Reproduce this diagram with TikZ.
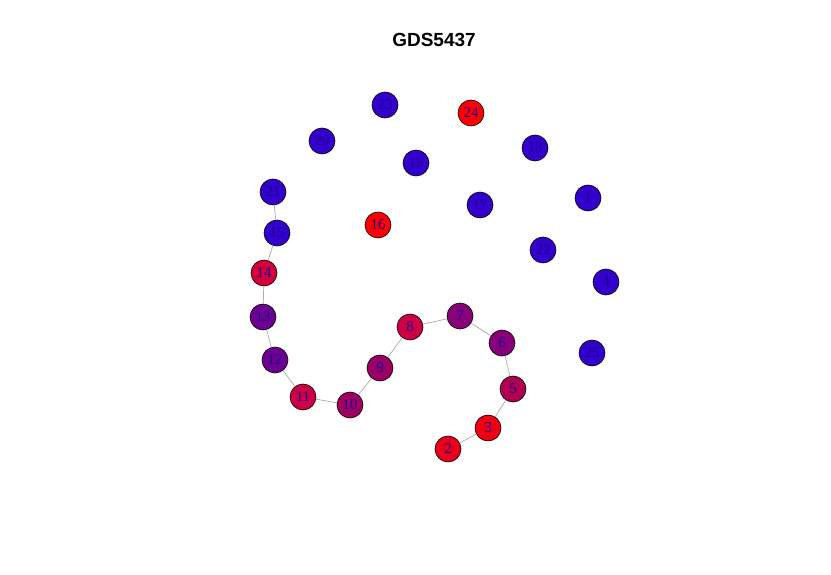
\documentclass[tikz,border=0pt]{standalone}
\usepackage{fontspec}
\setmainfont{Liberation Serif}
\newfontfamily\titlefont{Liberation Sans}
\usepackage{xcolor}
\usepackage{tikz}
\definecolor{lowblue}{HTML}{3300CC}
\definecolor{highred}{HTML}{FF0000}
\definecolor{red2}{HTML}{E8001A}
\definecolor{red3}{HTML}{EE0014}
\definecolor{red14}{HTML}{D5003A}
\definecolor{red8}{HTML}{CC0042}
\definecolor{mag5}{HTML}{B00050}
\definecolor{mag10}{HTML}{A00060}
\definecolor{mag9}{HTML}{990066}
\definecolor{purp6}{HTML}{880078}
\definecolor{purp13}{HTML}{6E0090}
\definecolor{labelnavy}{HTML}{1A0099}
\definecolor{edgegray}{HTML}{AAAAAA}
\tikzset{
  gene/.style={circle, draw=black, line width=0.6pt, minimum size=26pt, inner sep=0pt,
               text=labelnavy, font=\fontsize{15}{15}\selectfont},
  link/.style={draw=edgegray, line width=0.7pt},
}

\begin{document}
\begin{tikzpicture}[x=1pt, y=-1pt]
\useasboundingbox (0,0) rectangle (831,575);
\node[font=\titlefont\bfseries\fontsize{19}{19}\selectfont] (title) at (434,40) {GDS5437};
% unconnected genes
\node[gene, fill=lowblue] (n23) at (385,105) {23};
\node[gene, fill=highred] (n24) at (471,113) {24};
\node[gene, fill=lowblue] (n20) at (322,141) {20};
\node[gene, fill=lowblue] (n18) at (535,148) {18};
\node[gene, fill=lowblue] (n19) at (416,163) {19};
\node[gene, fill=lowblue] (n1) at (588,198) {1};
\node[gene, fill=lowblue] (n17) at (480,205) {17};
\node[gene, fill=highred] (n16) at (378,225) {16};
\node[gene, fill=lowblue] (n22) at (543,250) {22};
\node[gene, fill=lowblue] (n4) at (606,282) {4};
\node[gene, fill=lowblue] (n25) at (592,353) {25};
% the chain
\node[gene, fill=lowblue] (n21) at (273,192) {21};
\node[gene, fill=lowblue] (n15) at (277,233) {15};
\node[gene, fill=red14] (n14) at (264,273) {14};
\node[gene, fill=purp13] (n13) at (263,317) {13};
\node[gene, fill=purp13] (n12) at (275,360) {12};
\node[gene, fill=red8] (n11) at (303,397) {11};
\node[gene, fill=mag10] (n10) at (350,405) {10};
\node[gene, fill=mag9] (n9) at (380,368) {9};
\node[gene, fill=red8] (n8) at (410,327) {8};
\node[gene, fill=purp6] (n7) at (460,316) {7};
\node[gene, fill=purp6] (n6) at (502,343) {6};
\node[gene, fill=mag5] (n5) at (513,389) {5};
\node[gene, fill=red3] (n3) at (488,428) {3};
\node[gene, fill=red2] (n2) at (448,449) {2};
\draw[link] (n21) -- (n15);
\draw[link] (n15) -- (n14);
\draw[link] (n14) -- (n13);
\draw[link] (n13) -- (n12);
\draw[link] (n12) -- (n11);
\draw[link] (n11) -- (n10);
\draw[link] (n10) -- (n9);
\draw[link] (n9) -- (n8);
\draw[link] (n8) -- (n7);
\draw[link] (n7) -- (n6);
\draw[link] (n6) -- (n5);
\draw[link] (n5) -- (n3);
\draw[link] (n3) -- (n2);
\end{tikzpicture}
\end{document}
